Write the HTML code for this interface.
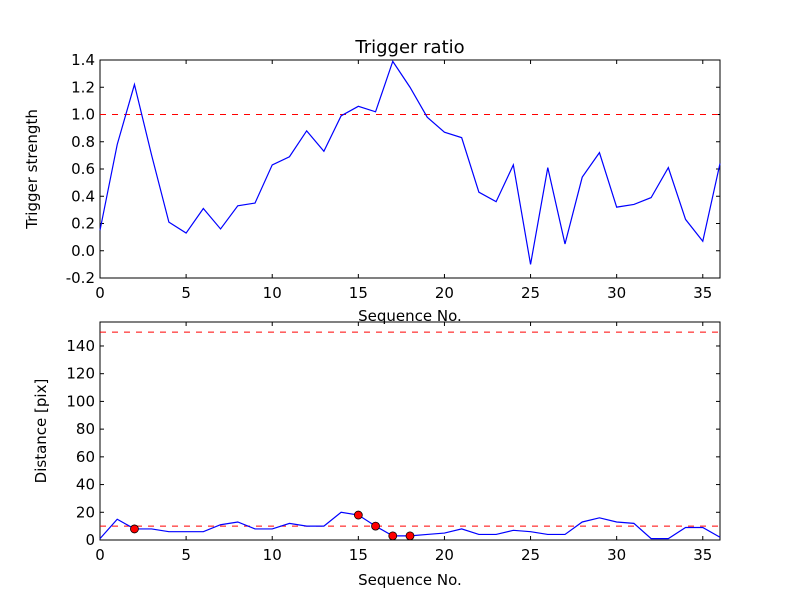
<!DOCTYPE html>
<html><head><meta charset="utf-8"><style>body{margin:0;background:#fff}svg{display:block;font-family:"DejaVu Sans","Liberation Sans",sans-serif}</style></head>
<body>
<svg id="c" width="800" height="600"></svg>
<script>
const seq = Array.from({length:37},(_,i)=>i);
const triggerStrength = [0.15,0.78,1.22,0.70,0.21,0.13,0.31,0.16,0.33,0.35,0.63,0.69,0.88,0.73,0.99,1.06,1.02,1.39,1.20,0.98,0.87,0.83,0.43,0.36,0.63,-0.10,0.61,0.05,0.54,0.72,0.32,0.34,0.39,0.61,0.23,0.07,0.64];
const distance = [1,15,8,8,6,6,6,11,13,8,8,12,10,10,20,18,10,3,3,4,5,8,4,4,7,6,4,4,13,16,13,12,1,1,9,9,2];
const flagged = [2,15,16,17,18];
const topThreshold = 1.0;
const bottomThresholds = [10,150];
const xTicks = [0,5,10,15,20,25,30,35];
const topYTicks = [-0.2,0,0.2,0.4,0.6,0.8,1.0,1.2,1.4];
const botYTicks = [0,20,40,60,80,100,120,140];

const svg=document.getElementById('c');const NS='http://www.w3.org/2000/svg';
function mk(t,a,p){const e=document.createElementNS(NS,t);for(const k in a)e.setAttribute(k,a[k]);(p||svg).appendChild(e);return e;}
const L=100,R=720;
const xs=v=>L+(v-0)/36*(R-L);
function panel(top,bot,ymin,ymax,yTicks,fmt,name){
  const ys=v=>bot-(v-ymin)/(ymax-ymin)*(bot-top);
  const g=mk('g',{});
  
  
  mk('rect',{x:L,y:top,width:R-L,height:bot-top,fill:'none',stroke:'#000','stroke-width':1},g);
  xTicks.forEach(t=>{const x=xs(t);
    mk('line',{x1:x,x2:x,y1:bot,y2:bot-4,stroke:'#000'},g);
    mk('line',{x1:x,x2:x,y1:top,y2:top+4,stroke:'#000'},g);
    const tx=mk('text',{x:x,y:bot+20,'text-anchor':'middle','font-size':15},g);tx.textContent=t;
    
    });
  yTicks.forEach(t=>{const y=ys(t);
    mk('line',{x1:L,x2:L+4,y1:y,y2:y,stroke:'#000'},g);
    mk('line',{x1:R,x2:R-4,y1:y,y2:y,stroke:'#000'},g);
    const tx=mk('text',{x:L-5,y:y+5,'text-anchor':'end','font-size':15},g);tx.textContent=fmt(t);
    
    });
  return {g,ys};
}
const A=panel(60,278,-0.2,1.4,topYTicks,t=>t.toFixed(1),'trigger-panel');
const th=mk('line',{x1:L,x2:R,y1:A.ys(topThreshold),y2:A.ys(topThreshold),stroke:'red','stroke-dasharray':'6,6'},A.g);


const l1=mk('polyline',{points:seq.map((s,i)=>xs(s)+','+A.ys(triggerStrength[i])).join(' '),fill:'none',stroke:'blue','stroke-width':1.2},A.g);


let t=mk('text',{x:410,y:53,'text-anchor':'middle','font-size':18});t.textContent='Trigger ratio';


t=mk('text',{x:0,y:0,'text-anchor':'middle','font-size':15,transform:'translate(37,169) rotate(-90)'});t.textContent='Trigger strength';


t=mk('text',{x:410,y:321,'text-anchor':'middle','font-size':15});t.textContent='Sequence No.';


const B=panel(322,540,0,157.3,botYTicks,t=>t,'distance-panel');
bottomThresholds.forEach(v=>{const l=mk('line',{x1:L,x2:R,y1:B.ys(v),y2:B.ys(v),stroke:'red','stroke-dasharray':'6,6'},B.g);
  
  });
const l2=mk('polyline',{points:seq.map((s,i)=>xs(s)+','+B.ys(distance[i])).join(' '),fill:'none',stroke:'blue','stroke-width':1.2},B.g);


flagged.forEach(s=>{const c=mk('circle',{cx:xs(s),cy:B.ys(distance[s]),r:4,fill:'red',stroke:'#000','stroke-width':0.8},B.g);
  
  });
t=mk('text',{x:0,y:0,'text-anchor':'middle','font-size':15,transform:'translate(46,431) rotate(-90)'});t.textContent='Distance [pix]';


t=mk('text',{x:410,y:585,'text-anchor':'middle','font-size':15});t.textContent='Sequence No.';


</script>
</body></html>
